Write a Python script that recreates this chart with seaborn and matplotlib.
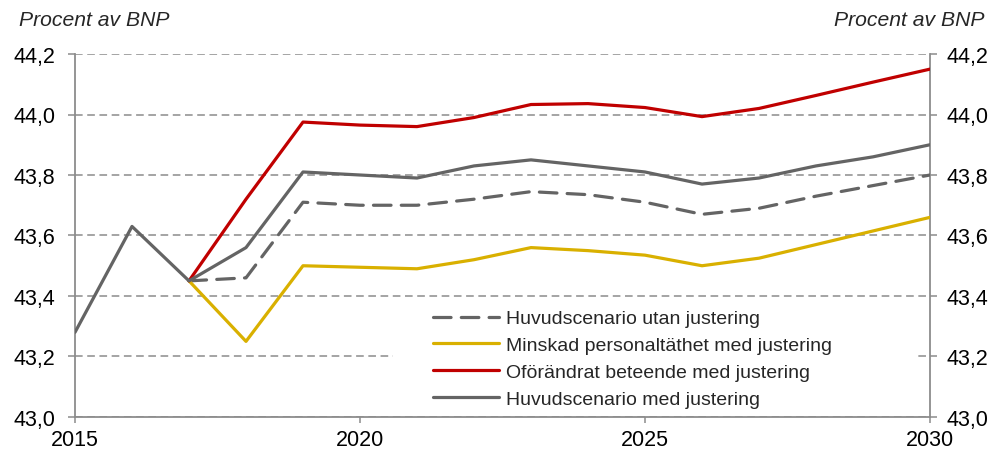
import numpy as np
import pandas as pd
import seaborn as sns
import matplotlib.pyplot as plt
from matplotlib.patches import Rectangle
from matplotlib.lines import Line2D

# Data (procent av BNP)
years_all = list(range(2015, 2031))
years_scen = list(range(2017, 2031))

med_justering = [43.28, 43.63, 43.45, 43.56, 43.81, 43.80, 43.79, 43.83,
                 43.85, 43.83, 43.81, 43.77, 43.79, 43.83, 43.86, 43.90]
utan_justering = [43.45, 43.46, 43.71, 43.70, 43.70, 43.72, 43.745, 43.735,
                  43.71, 43.67, 43.69, 43.73, 43.765, 43.80]
minskad = [43.45, 43.25, 43.50, 43.495, 43.49, 43.52, 43.56, 43.55,
           43.535, 43.50, 43.525, 43.57, 43.615, 43.66]
oforandrat = [43.45, 43.72, 43.975, 43.965, 43.96, 43.99, 44.033, 44.036,
              44.023, 43.993, 44.02, 44.063, 44.107, 44.15]

labels = ["Huvudscenario utan justering",
          "Minskad personaltäthet med justering",
          "Oförändrat beteende med justering",
          "Huvudscenario med justering"]
yticks = [43.0, 43.2, 43.4, 43.6, 43.8, 44.0, 44.2]
xticks = [2015, 2020, 2025, 2030]

GRAY = "#646464"
YELLOW = "#D9B000"
RED = "#C00000"
AXIS = "#8C8C8C"

sns.set_theme(style="white")
plt.rcParams["font.family"] = ["Liberation Sans", "DejaVu Sans"]

fig = plt.figure(figsize=(9.93, 4.52), dpi=100)
ax = fig.add_axes([75 / 993, 34 / 452, 855 / 993, 363 / 452])

lw = 2.3
sns.lineplot(x=years_scen, y=utan_justering, ax=ax, color=GRAY, lw=lw,
             dashes=False, zorder=3)
ax.lines[-1].set_dashes([5.5, 3.2])
ax.lines[-1].set_dash_capstyle("round")
sns.lineplot(x=years_scen, y=minskad, ax=ax, color=YELLOW, lw=lw, zorder=3)
sns.lineplot(x=years_scen, y=oforandrat, ax=ax, color=RED, lw=lw, zorder=3)
sns.lineplot(x=years_all, y=med_justering, ax=ax, color=GRAY, lw=lw, zorder=4)

ax.set_xlim(2015, 2030)
ax.set_ylim(43.0, 44.2)
ax.set_xticks(xticks)
ax.set_xticklabels([str(x) for x in xticks])
ax.set_yticks(yticks)
ylabels = [f"{v:.1f}".replace(".", ",") for v in yticks]
ax.set_yticklabels(ylabels)

# dashed horizontal gridlines
ax.set_axisbelow(True)
ax.yaxis.grid(True, color=AXIS, lw=1.1, linestyle=(0, (5, 3)))
ax.xaxis.grid(False)

for side in ["left", "right", "bottom"]:
    ax.spines[side].set_visible(True)
    ax.spines[side].set_color(AXIS)
    ax.spines[side].set_linewidth(1.3)
ax.spines["top"].set_visible(False)

ax.tick_params(axis="y", direction="out", length=5, width=1.1, color=AXIS,
               pad=9, labelsize=15.5, labelcolor="black", left=True)
ax.tick_params(axis="x", direction="out", length=4.5, width=1.1, color=AXIS,
               pad=4, labelsize=15.5, labelcolor="black", bottom=True)

ax2 = ax.twinx()
ax2.set_ylim(ax.get_ylim())
ax2.set_yticks(yticks)
ax2.set_yticklabels(ylabels)
ax2.tick_params(axis="y", direction="out", length=5, width=1.1, color=AXIS,
                pad=7, labelsize=15.5, labelcolor="black", right=True)
for s in ax2.spines.values():
    s.set_visible(False)
ax2.grid(False)

# white area behind the legend hides the gridlines there
ax.add_patch(Rectangle((0.372, 0.003), 0.613, 0.31, transform=ax.transAxes,
                       facecolor="white", edgecolor="none", zorder=1))

handles = [Line2D([], [], color=GRAY, lw=lw, dashes=[5.5, 3.2],
                  dash_capstyle="round"),
           Line2D([], [], color=YELLOW, lw=lw),
           Line2D([], [], color=RED, lw=lw),
           Line2D([], [], color=GRAY, lw=lw)]
ax.legend(handles, labels, loc="center left", bbox_to_anchor=(0.419, 0.16),
          frameon=False, fontsize=14, borderpad=0, borderaxespad=0,
          handlelength=3.4, handletextpad=0.35, labelspacing=0.48)

fig.text(19 / 993, 1 - 20 / 452, "Procent av BNP", ha="left", va="center",
         fontsize=15.2, style="italic")
fig.text(985 / 993, 1 - 20 / 452, "Procent av BNP", ha="right", va="center",
         fontsize=15.2, style="italic")

fig.savefig("out.png", dpi=100)
